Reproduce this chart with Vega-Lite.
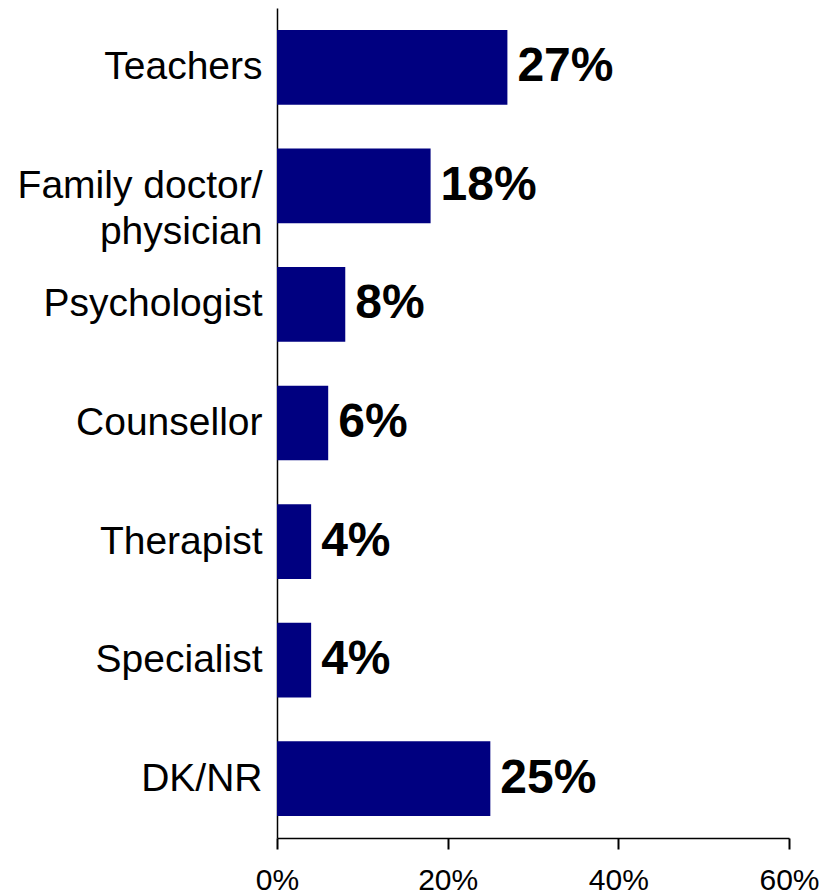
{
  "$schema": "https://vega.github.io/schema/vega-lite/v6.json",
  "width": 512,
  "height": 830,
  "autosize": "none",
  "padding": {"left": 277, "top": 8, "right": 45, "bottom": 57},
  "background": "white",
  "config": {"view": {"stroke": null}},
  "data": {
    "values": [
      {"source": "Teachers", "share": 0.27},
      {"source": "Family doctor/ physician", "share": 0.18},
      {"source": "Psychologist", "share": 0.08},
      {"source": "Counsellor", "share": 0.06},
      {"source": "Therapist", "share": 0.04},
      {"source": "Specialist", "share": 0.04},
      {"source": "DK/NR", "share": 0.25}
    ]
  },
  "encoding": {
    "y": {
      "field": "source",
      "type": "nominal",
      "sort": null,
      "scale": {"paddingInner": 0.37, "paddingOuter": 0.185},
      "axis": {
        "title": null,
        "ticks": false,
        "domainColor": "black",
        "domainWidth": 1.5,
        "labelFont": "Liberation Sans",
        "labelFontSize": 39,
        "labelColor": "black",
        "labelPadding": 15,
        "labelLimit": 400,
        "labelLineHeight": 46,
        "labelExpr": "datum.value == 'Family doctor/ physician' ? ['Family doctor/', 'physician'] : datum.label"
      }
    }
  },
  "layer": [
    {
      "mark": {"type": "bar", "color": "#000080"},
      "encoding": {
        "x": {
          "field": "share",
          "type": "quantitative",
          "scale": {"domain": [0, 0.6], "nice": false},
          "axis": {
            "title": null,
            "format": ".0%",
            "values": [0, 0.2, 0.4, 0.6],
            "grid": false,
            "domainColor": "black",
            "domainWidth": 1.5,
            "tickColor": "black",
            "tickWidth": 2,
            "tickSize": 11,
            "labelFont": "Liberation Sans",
            "labelFontSize": 30,
            "labelColor": "black",
            "labelPadding": 16,
            "labelFlush": false
          }
        }
      }
    },
    {
      "mark": {"type": "text", "align": "left", "baseline": "middle", "dx": 10, "font": "Liberation Sans", "fontWeight": "bold", "fontSize": 48, "color": "black"},
      "encoding": {
        "x": {"field": "share", "type": "quantitative"},
        "text": {"field": "share", "type": "quantitative", "format": ".0%"}
      }
    }
  ]
}
